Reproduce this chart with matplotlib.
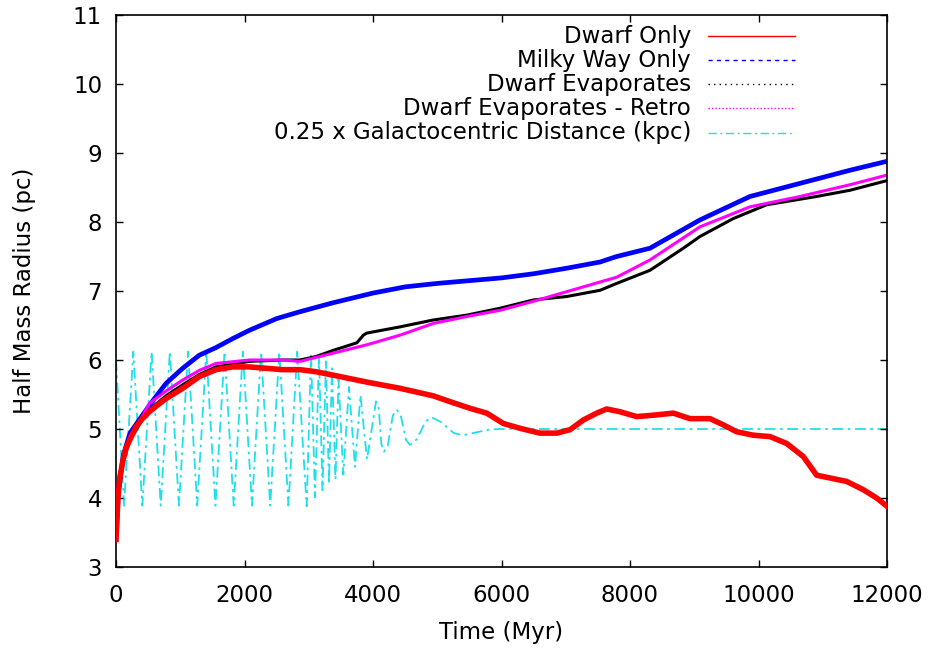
import matplotlib
matplotlib.use("Agg")
import matplotlib.pyplot as plt

plt.rcParams['font.family'] = ['DejaVu Sans']

# Half mass radius (pc) vs time (Myr)
t_dwarf = [0, 30, 60, 110, 156, 218, 311, 400, 519, 650, 778, 1038, 1297,
           1556, 1816, 2075, 2594, 2864, 3113, 3382, 3902, 4420, 4939, 5250,
           5510, 5770, 6028, 6288, 6599, 6859, 7066, 7273, 7482, 7637, 7844,
           8104, 8363, 8674, 8934, 9245, 9452, 9660, 9919, 10179, 10439,
           10698, 10905, 11113, 11372, 11631, 11839, 12000]
r_dwarf = [3.40, 4.00, 4.30, 4.55, 4.72, 4.85, 5.03, 5.14, 5.25, 5.35, 5.44,
           5.59, 5.76, 5.86, 5.90, 5.90, 5.86, 5.86, 5.83, 5.78, 5.68, 5.59,
           5.48, 5.38, 5.30, 5.23, 5.08, 5.01, 4.94, 4.94, 4.99, 5.13, 5.23,
           5.29, 5.25, 5.18, 5.20, 5.23, 5.15, 5.15, 5.06, 4.96, 4.91, 4.89,
           4.79, 4.60, 4.33, 4.29, 4.24, 4.12, 4.00, 3.88]

t_mw = [0, 36, 114, 218, 374, 581, 778, 1038, 1297, 1556, 1816, 2075, 2500,
        2864, 3380, 4000, 4500, 5000, 5500, 6000, 6500, 7014, 7533, 7793,
        8311, 9089, 9868, 10646, 11424, 12000]
r_mw = [3.40, 4.10, 4.62, 4.94, 5.15, 5.42, 5.66, 5.88, 6.07, 6.18, 6.31,
        6.43, 6.60, 6.70, 6.83, 6.97, 7.06, 7.11, 7.15, 7.19, 7.25, 7.33,
        7.42, 7.50, 7.62, 8.03, 8.37, 8.56, 8.75, 8.88]

t_evap = [0, 36, 114, 218, 374, 519, 778, 1038, 1297, 1556, 2075, 2594, 2864,
          3113, 3382, 3750, 3850, 3902, 4420, 4939, 5458, 5977, 6495, 7014,
          7533, 7793, 8311, 8830, 9089, 9608, 10127, 10905, 11424, 12000]
r_evap = [3.40, 4.02, 4.55, 4.84, 5.08, 5.28, 5.48, 5.64, 5.79, 5.90, 5.98,
          6.00, 6.00, 6.05, 6.14, 6.25, 6.36, 6.39, 6.48, 6.58, 6.65, 6.75,
          6.87, 6.92, 7.01, 7.11, 7.30, 7.62, 7.79, 8.05, 8.25, 8.37, 8.46,
          8.60]

t_retro = [0, 36, 114, 218, 374, 519, 778, 1038, 1297, 1556, 2075, 2594,
           2864, 3382, 3902, 4420, 4939, 5458, 5977, 6495, 7014, 7533, 7793,
           8311, 9089, 9868, 10646, 11424, 12000]
r_retro = [3.40, 4.05, 4.60, 4.90, 5.12, 5.37, 5.55, 5.71, 5.85, 5.95, 6.00,
           6.00, 5.98, 6.10, 6.22, 6.36, 6.53, 6.63, 6.72, 6.85, 6.99, 7.13,
           7.20, 7.45, 7.93, 8.22, 8.37, 8.54, 8.68]

# 0.25 x galactocentric distance: turning points of the orbit
t_dist = [0, 125, 269, 410, 554, 696, 838, 980, 1122, 1264, 1406, 1548, 1690,
          1832, 1974, 2116, 2258, 2400, 2542, 2684, 2820, 2968, 3035, 3097,
          3160, 3214, 3268, 3315, 3362, 3416, 3463, 3538, 3626, 3720, 3805,
          3907, 4047, 4090, 4130, 4171, 4230, 4310, 4369, 4430, 4515, 4576,
          4680, 4820, 4914, 5060, 5260, 5405, 5600, 5800, 5950, 12000]
d_dist = [6.00, 3.89, 6.12, 3.89, 6.12, 3.89, 6.12, 3.89, 6.12, 3.89, 6.12,
          3.89, 6.12, 3.89, 6.12, 3.89, 6.12, 3.89, 6.12, 3.89, 6.12, 3.88,
          6.10, 4.01, 6.05, 4.11, 5.98, 4.20, 5.88, 4.27, 5.72, 4.34, 5.61,
          4.45, 5.49, 4.56, 5.40, 5.30, 4.78, 4.67, 4.76, 5.20, 5.28, 5.20,
          4.84, 4.77, 4.85, 5.11, 5.17, 5.10, 4.94, 4.91, 4.95, 4.99, 5.00,
          5.00]

labels = ['Dwarf Only', 'Milky Way Only', 'Dwarf Evaporates',
          'Dwarf Evaporates - Retro',
          '0.25 x Galactocentric Distance (kpc)']

W, H = 933, 653
fs = 16.5
fig = plt.figure(figsize=(W / 100, H / 100), dpi=100)
ax = fig.add_axes([116 / W, 1 - 567 / H, 771 / W, 552 / H])

cyan = '#1ee0ec'
dashdot = (0, (6, 2.5, 1.5, 2.5))
ax.plot(t_dist, d_dist, color=cyan, lw=1.3, ls=dashdot, zorder=1)
ax.plot(t_dwarf, r_dwarf, color='#ff0000', lw=4.0, zorder=3)
ax.plot(t_mw, r_mw, color='#0000ff', lw=3.4, zorder=2)
ax.plot(t_evap, r_evap, color='black', lw=2.2, zorder=2)
ax.plot(t_retro, r_retro, color='#ff00ff', lw=2.2, zorder=2)

ax.set_xlim(0, 12000)
ax.set_ylim(3, 11)
ax.set_xticks(range(0, 12001, 2000))
ax.set_yticks(range(3, 12))
ax.tick_params(direction='in', top=True, right=True, length=5, width=1,
               labelsize=fs)
ax.tick_params(axis='x', pad=12)
ax.tick_params(axis='y', pad=10)
for s in ax.spines.values():
    s.set_linewidth(1.2)

ax.set_xlabel('Time (Myr)', fontsize=fs)
ax.set_ylabel('Half Mass Radius (pc)', fontsize=fs)
ax.xaxis.set_label_coords(0.5, (567 - 633) / 552)
ax.xaxis.label.set_va('center')
ax.yaxis.set_label_coords((25 - 116) / 771, 0.5)
ax.yaxis.label.set_va('center')

# key drawn the gnuplot way: right aligned text, then a sample line
key_styles = [
    dict(color='#ff0000', ls='-'),
    dict(color='#0000ff', ls=(0, (3, 3))),
    dict(color='black', ls=(0, (1, 3))),
    dict(color='#ff00ff', ls=(0, (1, 1.5))),
    dict(color=cyan, ls=dashdot),
]
rows_y = [36, 60, 84, 108, 133]
for lab, sty, yp in zip(labels, key_styles, rows_y):
    fy = 1 - yp / H
    fig.text(691 / W, fy, lab, ha='right', va='center', fontsize=fs)
    fig.add_artist(plt.Line2D([708 / W, 795 / W], [fy, fy], lw=1.0, **sty))

fig.savefig('out.png', dpi=100)
